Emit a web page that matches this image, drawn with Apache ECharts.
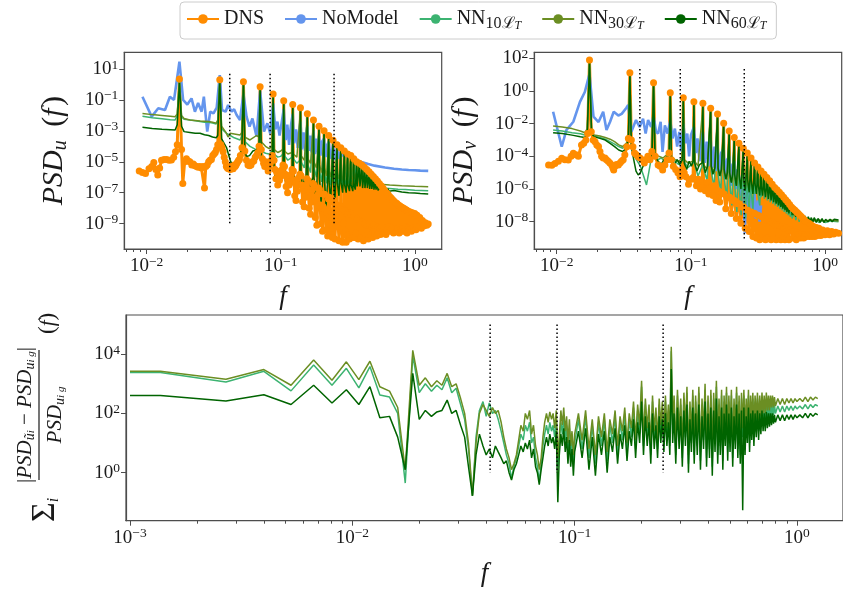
<!DOCTYPE html>
<html><head><meta charset="utf-8">
<script src="https://cdn.jsdelivr.net/npm/echarts@6/dist/echarts.min.js"></script>
<style>html,body{margin:0;padding:0;background:#fff}#c{width:843px;height:589px}</style>
</head><body><div id="c"></div><script>
// ---------- DATA: [frequency f, log10(value)] ----------
const dnsU = [[0.0088,-5.6],[0.0093,-5.7],[0.0098,-5.75],[0.0104,-5.45],[0.0109,-5.3],[0.0113,-5.05],[0.0117,-5.5],[0.0121,-5.85],[0.0125,-5.4],[0.0129,-4.9],[0.0135,-4.85],[0.0141,-4.85],[0.0147,-4.9],[0.0153,-4.88],[0.0159,-4.7],[0.0164,-4.35],[0.0169,-3.9],[0.01755,0.35],[0.0182,-4.2],[0.0186,-6.4],[0.0192,-5.0],[0.0198,-4.8],[0.0204,-4.95],[0.021,-5.0],[0.0217,-5.2],[0.0223,-5.15],[0.0229,-5.25],[0.0236,-5.3],[0.0242,-5.35],[0.0249,-5.3],[0.0256,-5.4],[0.0263,-5.3],[0.027,-6.7],[0.0276,-5.3],[0.0283,-5.2],[0.029,-5.0],[0.0297,-4.9],[0.0304,-4.85],[0.0311,-4.6],[0.0318,-4.5],[0.0325,-4.4],[0.0332,-4.2],[0.0339,-3.9],[0.0351,0.3],[0.0358,-3.9],[0.0365,-4.1],[0.0372,-4.35],[0.0379,-4.7],[0.0386,-5.0],[0.0393,-5.3],[0.04,-5.4],[0.0407,-5.45],[0.0414,-5.3],[0.0421,-5.5],[0.0428,-5.35],[0.0435,-5.3],[0.0442,-5.45],[0.045,-5.2],[0.0457,-5.3],[0.0464,-5.2],[0.0471,-5.1],[0.0478,-5.0],[0.0485,-4.9],[0.0492,-4.85],[0.05,-4.6],[0.0514,-4.1],[0.0527,0.18],[0.054,-4.3],[0.0555,-4.9],[0.057,-5.2],[0.0585,-5.25],[0.06,-5.2],[0.0615,-5.0],[0.063,-4.95],[0.0645,-4.7],[0.066,-4.6],[0.0675,-4.4],[0.0689,-4.0],[0.0702,-0.15],[0.0716,-4.2],[0.073,-4.8],[0.0745,-5.1],[0.076,-5.3],[0.0775,-5.0],[0.079,-5.2],[0.0805,-5.6],[0.082,-5.3],[0.0835,-5.1],[0.085,-4.9],[0.0864,-4.6],[0.0878,-0.62],[0.0892,-4.9],[0.0906,-5.5],[0.092,-6.1],[0.0935,-5.7],[0.095,-6.5],[0.0965,-5.8],[0.098,-6.2],[0.0995,-5.6],[0.101,-5.9],[0.1025,-5.5],[0.1039,-5.2],[0.1053,-1.05],[0.1067,-5.3],[0.1082,-5.8],[0.1097,-6.6],[0.111,-6.0],[0.1125,-7.0],[0.114,-6.2],[0.1155,-6.5],[0.117,-5.9],[0.1185,-6.3],[0.12,-5.8],[0.1215,-5.5],[0.1229,-1.3],[0.1243,-5.6],[0.1258,-6.2],[0.1272,-7.2],[0.1287,-6.4],[0.13,-7.5],[0.1316,-6.6],[0.133,-6.9],[0.1345,-6.1],[0.136,-6.5],[0.139,-5.8],[0.1404,-1.5],[0.1418,-5.9],[0.1435,-6.5],[0.1455,-7.6],[0.1475,-6.8],[0.1495,-7.9],[0.1515,-6.9],[0.1535,-7.3],[0.1555,-6.5],[0.1567,-6.1],[0.158,-1.9],[0.1594,-6.2],[0.161,-6.8],[0.163,-8.0],[0.165,-7.0],[0.167,-8.4],[0.169,-7.2],[0.171,-7.6],[0.1728,-6.8],[0.1742,-6.4],[0.1755,-2.3],[0.177,-6.5],[0.179,-7.3],[0.181,-8.6],[0.1835,-7.5],[0.186,-9.1],[0.1885,-7.8],[0.1905,-7.1],[0.1917,-6.7],[0.1931,-2.7],[0.1945,-6.8],[0.197,-7.8],[0.1995,-9.0],[0.202,-8.0],[0.205,-9.5],[0.2075,-7.9],[0.2092,-7.1],[0.2106,-3.0],[0.212,-7.1],[0.215,-8.1],[0.218,-9.4],[0.221,-8.3],[0.224,-9.8],[0.2268,-7.4],[0.2282,-3.3],[0.2296,-7.3],[0.233,-8.5],[0.236,-9.7],[0.239,-8.6],[0.2425,-9.9],[0.2443,-7.6],[0.2457,-3.6],[0.2471,-7.5],[0.25,-8.7],[0.254,-10.0],[0.2575,-8.8],[0.2605,-7.9],[0.2633,-3.9],[0.2647,-7.8],[0.268,-9.0],[0.272,-10.1],[0.2755,-8.9],[0.2794,-8.0],[0.2808,-4.1],[0.2822,-7.9],[0.286,-9.3],[0.29,-10.2],[0.294,-9.0],[0.297,-8.1],[0.2984,-4.3],[0.2998,-8.2],[0.304,-9.5],[0.308,-10.2],[0.3145,-8.3],[0.3159,-4.5],[0.3173,-8.4],[0.322,-9.7],[0.326,-10.0],[0.3321,-8.3],[0.3335,-4.6],[0.335,-8.4],[0.34,-9.8],[0.345,-9.9],[0.3496,-8.4],[0.351,-4.8],[0.3525,-8.5],[0.358,-9.9],[0.364,-9.6],[0.3686,-5.0],[0.372,-8.7],[0.378,-10.0],[0.3861,-5.1],[0.39,-8.8],[0.396,-9.9],[0.4037,-5.2],[0.408,-8.9],[0.414,-10.1],[0.4212,-5.35],[0.425,-9.0],[0.432,-9.8],[0.4388,-5.5],[0.443,-9.1],[0.45,-10.0],[0.4563,-5.65],[0.461,-9.0],[0.468,-9.7],[0.4739,-5.8],[0.478,-9.2],[0.485,-9.9],[0.4914,-5.95],[0.496,-9.1],[0.503,-9.6],[0.509,-6.1],[0.514,-9.3],[0.52,-9.8],[0.5265,-6.25],[0.532,-9.2],[0.538,-9.6],[0.5441,-6.4],[0.55,-9.3],[0.556,-9.7],[0.5616,-6.55],[0.568,-9.2],[0.574,-9.5],[0.5792,-6.7],[0.586,-9.4],[0.592,-9.6],[0.5967,-6.85],[0.604,-9.3],[0.61,-9.7],[0.6143,-7.0],[0.622,-9.4],[0.628,-9.5],[0.6318,-7.1],[0.64,-9.2],[0.6494,-7.25],[0.658,-9.5],[0.6669,-7.35],[0.676,-9.3],[0.6845,-7.45],[0.694,-9.6],[0.702,-7.55],[0.712,-9.4],[0.7196,-7.65],[0.73,-9.5],[0.7371,-7.7],[0.748,-9.3],[0.7547,-7.8],[0.765,-9.6],[0.7722,-7.85],[0.783,-9.4],[0.7898,-7.9],[0.80,-9.5],[0.8073,-7.95],[0.82,-9.3],[0.8249,-8.0],[0.835,-9.5],[0.8424,-8.05],[0.855,-9.2],[0.86,-8.1],[0.875,-9.6],[0.8775,-8.15],[0.89,-9.3],[0.895,-8.2],[0.91,-9.4],[0.925,-8.25],[0.945,-9.5],[0.96,-8.3],[0.98,-9.3],[1.0,-8.35],[1.02,-9.4],[1.04,-8.45],[1.07,-9.2],[1.09,-8.6],[1.12,-9.3],[1.14,-8.8],[1.17,-9.15],[1.2,-8.95],[1.23,-9.1],[1.26,-9.03]];
const noModelU = [[0.0093,-0.79],[0.0109,-2.08],[0.0122,-1.54],[0.0137,-1.65],[0.0149,-0.79],[0.016,-1.0],[0.01755,1.47],[0.0187,-1.0],[0.0201,-1.3],[0.0216,-0.9],[0.0229,-1.76],[0.0242,-1.2],[0.0257,-1.76],[0.0267,-0.79],[0.0283,-3.05],[0.0298,-1.76],[0.0315,-1.87],[0.0333,-1.5],[0.0351,0.6],[0.0365,-1.65],[0.0388,-1.76],[0.0405,-1.33],[0.043,-1.76],[0.0449,-1.6],[0.0469,-1.97],[0.0497,-2.3],[0.0527,-0.6],[0.0556,-2.08],[0.0585,-2.73],[0.0615,-2.2],[0.066,-3.37],[0.0702,-0.4],[0.075,-3.05],[0.0795,-2.51],[0.0835,-3.16],[0.0878,-1.2],[0.0912,-2.9],[0.0945,-2.4],[0.098,-3.3],[0.1015,-2.5],[0.1053,-1.6],[0.109,-3.6],[0.112,-2.6],[0.1155,-3.9],[0.119,-2.7],[0.1229,-1.9],[0.126,-3.8],[0.13,-2.9],[0.134,-4.1],[0.137,-3.0],[0.1404,-2.4],[0.144,-4.2],[0.148,-3.1],[0.152,-4.3],[0.155,-3.2],[0.158,-2.7],[0.162,-4.3],[0.166,-3.3],[0.17,-4.4],[0.1755,-3.0],[0.18,-4.5],[0.185,-3.5],[0.19,-4.5],[0.1931,-3.3],[0.198,-4.6],[0.203,-3.7],[0.2106,-3.5],[0.216,-4.7],[0.222,-3.9],[0.2282,-3.7],[0.235,-4.8],[0.2457,-3.9],[0.252,-4.9],[0.2633,-4.1],[0.27,-4.8],[0.2808,-4.35],[0.29,-4.6],[0.31,-4.65],[0.33,-4.72],[0.36,-4.88],[0.4,-5.02],[0.45,-5.15],[0.5,-5.25],[0.6,-5.37],[0.7,-5.45],[0.8,-5.5],[0.9,-5.53],[1.0,-5.55],[1.1,-5.57],[1.26,-5.59]];
const nn10U = [[0.0093,-2.05],[0.011,-2.15],[0.013,-2.22],[0.015,-2.28],[0.0163,-2.3],[0.0169,-2.0],[0.01755,0.3],[0.0182,-2.1],[0.019,-2.25],[0.021,-2.3],[0.023,-2.35],[0.025,-2.4],[0.027,-2.45],[0.029,-2.45],[0.031,-2.5],[0.033,-2.55],[0.0339,-2.4],[0.0351,0.3],[0.0362,-2.8],[0.037,-2.94],[0.0395,-3.16],[0.042,-3.3],[0.045,-3.45],[0.0497,-3.59],[0.0514,-3.3],[0.0527,0.15],[0.054,-3.7],[0.059,-4.0],[0.066,-4.23],[0.0689,-3.9],[0.0702,-0.2],[0.0716,-4.3],[0.077,-4.45],[0.082,-4.5],[0.0864,-4.3],[0.0878,-0.7],[0.0892,-4.5],[0.095,-4.7],[0.1,-4.65],[0.1039,-4.5],[0.1053,-1.15],[0.1067,-4.6],[0.113,-4.9],[0.1215,-4.7],[0.1229,-1.4],[0.1243,-4.8],[0.132,-5.1],[0.139,-4.9],[0.1404,-1.6],[0.1418,-5.0],[0.15,-5.4],[0.158,-2.0],[0.1594,-5.2],[0.167,-5.7],[0.1755,-2.4],[0.177,-5.4],[0.185,-6.0],[0.1931,-2.8],[0.1945,-5.6],[0.202,-6.3],[0.2106,-3.1],[0.212,-5.8],[0.22,-6.4],[0.2282,-3.4],[0.2296,-5.9],[0.237,-6.5],[0.2457,-3.7],[0.2471,-6.0],[0.255,-6.5],[0.2633,-4.0],[0.2647,-6.1],[0.272,-6.5],[0.2808,-4.2],[0.2822,-6.1],[0.29,-6.5],[0.2984,-4.4],[0.3,-6.2],[0.308,-6.5],[0.3159,-4.6],[0.3173,-6.2],[0.326,-6.5],[0.3335,-4.75],[0.335,-6.3],[0.351,-4.9],[0.3525,-6.3],[0.3686,-5.1],[0.372,-6.4],[0.3861,-5.2],[0.39,-6.4],[0.4037,-5.35],[0.408,-6.5],[0.4212,-5.5],[0.425,-6.5],[0.4388,-5.65],[0.443,-6.55],[0.4739,-5.95],[0.478,-6.6],[0.509,-6.2],[0.514,-6.6],[0.5616,-6.5],[0.568,-6.7],[0.65,-6.72],[0.75,-6.78],[0.85,-6.8],[1.0,-6.84],[1.26,-6.87]];
const nn30U = [[0.0093,-1.87],[0.011,-1.95],[0.013,-2.0],[0.015,-2.05],[0.0163,-2.08],[0.0169,-1.9],[0.01755,0.3],[0.0182,-2.0],[0.019,-2.2],[0.021,-2.3],[0.023,-2.33],[0.025,-2.36],[0.027,-2.38],[0.029,-2.4],[0.031,-2.45],[0.033,-2.5],[0.0339,-2.3],[0.0351,0.3],[0.0362,-2.7],[0.037,-2.8],[0.039,-3.1],[0.0405,-3.4],[0.042,-3.16],[0.045,-3.2],[0.0497,-3.27],[0.0514,-3.1],[0.0527,0.15],[0.054,-3.4],[0.059,-3.59],[0.066,-3.3],[0.0689,-3.4],[0.0702,-0.2],[0.0716,-3.7],[0.077,-4.0],[0.082,-4.15],[0.0864,-4.0],[0.0878,-0.7],[0.0892,-4.2],[0.095,-4.4],[0.1,-4.3],[0.1039,-4.2],[0.1053,-1.15],[0.1067,-4.3],[0.113,-4.5],[0.1215,-4.4],[0.1229,-1.4],[0.1243,-4.5],[0.132,-4.7],[0.1404,-1.6],[0.1418,-4.6],[0.15,-4.9],[0.158,-2.0],[0.1594,-4.8],[0.167,-5.1],[0.1755,-2.4],[0.177,-5.0],[0.185,-5.4],[0.1931,-2.8],[0.1945,-5.2],[0.202,-5.7],[0.2106,-3.1],[0.212,-5.4],[0.22,-5.9],[0.2282,-3.4],[0.2296,-5.6],[0.237,-6.0],[0.2457,-3.7],[0.2471,-5.7],[0.255,-6.1],[0.2633,-4.0],[0.2647,-5.8],[0.272,-6.1],[0.2808,-4.2],[0.2822,-5.9],[0.29,-6.2],[0.2984,-4.4],[0.3,-6.0],[0.3159,-4.6],[0.3173,-6.0],[0.3335,-4.75],[0.335,-6.1],[0.351,-4.9],[0.3525,-6.1],[0.3861,-5.2],[0.39,-6.2],[0.4212,-5.5],[0.425,-6.3],[0.4739,-5.95],[0.478,-6.4],[0.55,-6.45],[0.65,-6.5],[0.8,-6.55],[1.0,-6.58],[1.26,-6.61]];
const nn60U = [[0.0093,-2.77],[0.011,-2.85],[0.013,-2.9],[0.015,-2.93],[0.0163,-2.95],[0.0169,-2.6],[0.01755,0.1],[0.0182,-2.7],[0.019,-3.05],[0.021,-3.1],[0.023,-3.15],[0.025,-3.15],[0.027,-3.25],[0.029,-3.3],[0.031,-3.4],[0.033,-3.45],[0.0339,-3.3],[0.0351,0.2],[0.0362,-3.5],[0.0372,-3.7],[0.0383,-3.8],[0.0395,-4.1],[0.0407,-4.5],[0.042,-4.9],[0.0435,-5.2],[0.0455,-5.35],[0.0469,-5.4],[0.0485,-5.0],[0.05,-4.6],[0.0514,-4.0],[0.0527,0.1],[0.054,-4.4],[0.0556,-4.66],[0.0585,-4.6],[0.062,-4.3],[0.066,-4.23],[0.0689,-3.9],[0.0702,-0.2],[0.0716,-4.6],[0.074,-4.9],[0.077,-5.3],[0.08,-5.7],[0.083,-5.6],[0.0864,-5.0],[0.0878,-0.7],[0.0892,-5.5],[0.092,-6.2],[0.095,-5.8],[0.098,-6.4],[0.101,-6.0],[0.1039,-5.5],[0.1053,-1.15],[0.1067,-5.6],[0.109,-6.3],[0.113,-5.8],[0.116,-6.6],[0.1215,-5.6],[0.1229,-1.4],[0.1243,-5.7],[0.128,-6.7],[0.132,-5.9],[0.136,-6.5],[0.139,-5.6],[0.1404,-1.6],[0.1418,-5.8],[0.146,-6.9],[0.15,-6.0],[0.154,-6.6],[0.158,-2.0],[0.1594,-5.9],[0.164,-7.0],[0.169,-6.3],[0.1742,-6.0],[0.1755,-2.4],[0.177,-6.0],[0.182,-7.2],[0.186,-6.4],[0.1931,-2.8],[0.1945,-6.1],[0.2,-7.6],[0.205,-6.3],[0.2106,-3.1],[0.212,-6.2],[0.218,-7.9],[0.223,-6.4],[0.2282,-3.4],[0.2296,-6.3],[0.236,-7.6],[0.2457,-3.7],[0.2471,-6.3],[0.254,-7.4],[0.2633,-4.0],[0.2647,-6.4],[0.272,-7.2],[0.2808,-4.2],[0.2822,-6.4],[0.29,-7.0],[0.2984,-4.4],[0.3,-6.5],[0.308,-7.0],[0.3159,-4.6],[0.3173,-6.5],[0.326,-6.9],[0.3335,-4.75],[0.335,-6.5],[0.345,-6.9],[0.351,-4.9],[0.3525,-6.5],[0.36,-6.8],[0.3686,-5.1],[0.372,-6.6],[0.3861,-5.2],[0.39,-6.6],[0.4037,-5.35],[0.408,-6.7],[0.4212,-5.5],[0.425,-6.7],[0.4388,-5.65],[0.443,-6.7],[0.4563,-5.8],[0.461,-6.75],[0.4739,-5.95],[0.478,-6.75],[0.4914,-6.1],[0.496,-6.8],[0.509,-6.2],[0.514,-6.8],[0.5265,-6.35],[0.532,-6.85],[0.5616,-6.5],[0.568,-6.85],[0.5967,-6.6],[0.604,-6.9],[0.6318,-6.75],[0.64,-6.9],[0.7,-6.85],[0.72,-6.95],[0.8,-6.95],[0.9,-7.0],[1.0,-7.02],[1.1,-7.05],[1.26,-7.08]];

const dnsV = [[0.0087,-4.53],[0.0092,-4.55],[0.0097,-4.43],[0.0103,-4.3],[0.0109,-4.12],[0.0115,-4.2],[0.0122,-4.22],[0.0128,-4.0],[0.0133,-3.81],[0.0139,-3.9],[0.0145,-4.0],[0.0153,-3.3],[0.0159,-3.2],[0.0165,-3.0],[0.017,-2.6],[0.01755,1.9],[0.0181,-2.5],[0.0187,-3.0],[0.0193,-3.1],[0.0199,-3.3],[0.0205,-3.4],[0.021,-3.7],[0.0216,-4.0],[0.0222,-4.1],[0.0229,-4.1],[0.0235,-4.2],[0.0242,-4.3],[0.0249,-4.4],[0.0257,-4.53],[0.0262,-4.7],[0.0266,-4.84],[0.0272,-4.6],[0.0279,-4.5],[0.0288,-4.53],[0.0296,-4.4],[0.0304,-4.3],[0.0313,-4.2],[0.0322,-3.9],[0.0333,-3.41],[0.0342,-2.9],[0.0351,1.12],[0.036,-3.0],[0.037,-3.41],[0.038,-3.8],[0.0392,-3.9],[0.0405,-4.02],[0.0418,-4.1],[0.0437,-4.22],[0.045,-4.4],[0.0463,-4.2],[0.0478,-4.0],[0.0496,-4.2],[0.0512,-3.7],[0.0527,0.5],[0.0542,-4.0],[0.057,-4.53],[0.059,-4.6],[0.0616,-4.84],[0.064,-4.53],[0.0665,-4.2],[0.0687,-3.8],[0.0702,-0.1],[0.0716,-4.2],[0.074,-4.6],[0.077,-4.8],[0.08,-5.0],[0.083,-5.24],[0.0864,-4.8],[0.0878,-0.41],[0.0892,-5.0],[0.092,-5.24],[0.096,-5.7],[0.1,-5.4],[0.1039,-5.3],[0.1053,-0.65],[0.1067,-5.4],[0.11,-5.8],[0.114,-5.4],[0.118,-6.0],[0.1215,-5.6],[0.1229,-0.75],[0.1243,-5.7],[0.128,-6.1],[0.132,-5.6],[0.136,-6.3],[0.1404,-1.06],[0.1418,-5.9],[0.146,-6.4],[0.15,-5.8],[0.154,-6.7],[0.158,-1.4],[0.1594,-6.1],[0.164,-6.8],[0.169,-6.2],[0.1755,-1.98],[0.177,-6.3],[0.182,-7.2],[0.187,-6.5],[0.1931,-2.45],[0.1945,-6.5],[0.2,-7.5],[0.205,-6.7],[0.2106,-2.85],[0.212,-6.7],[0.218,-7.8],[0.223,-6.9],[0.2282,-3.2],[0.2296,-6.9],[0.236,-8.1],[0.241,-7.1],[0.2457,-3.5],[0.2471,-7.1],[0.254,-8.4],[0.2633,-3.8],[0.2647,-7.3],[0.272,-8.6],[0.2808,-4.1],[0.2822,-7.4],[0.29,-8.9],[0.2984,-4.4],[0.3,-7.5],[0.308,-9.0],[0.3159,-4.65],[0.3173,-7.6],[0.326,-9.1],[0.3335,-4.9],[0.335,-7.7],[0.342,-9.0],[0.351,-5.1],[0.3525,-7.8],[0.36,-9.1],[0.3686,-5.3],[0.372,-7.9],[0.378,-9.0],[0.3861,-5.5],[0.39,-8.0],[0.396,-9.1],[0.4037,-5.7],[0.408,-8.1],[0.414,-9.0],[0.4212,-5.9],[0.425,-8.2],[0.432,-9.1],[0.4388,-6.05],[0.443,-8.2],[0.45,-9.0],[0.4563,-6.2],[0.461,-8.3],[0.468,-9.1],[0.4739,-6.35],[0.478,-8.3],[0.485,-9.0],[0.4914,-6.5],[0.496,-8.4],[0.503,-9.1],[0.509,-6.65],[0.514,-8.4],[0.52,-9.0],[0.5265,-6.8],[0.532,-8.5],[0.538,-9.1],[0.5441,-6.95],[0.55,-8.5],[0.5616,-7.1],[0.568,-8.6],[0.574,-9.0],[0.5792,-7.2],[0.586,-8.6],[0.5967,-7.3],[0.604,-8.7],[0.61,-9.1],[0.6143,-7.4],[0.622,-8.7],[0.6318,-7.5],[0.64,-8.8],[0.6494,-7.6],[0.658,-9.0],[0.6669,-7.7],[0.676,-8.8],[0.6845,-7.8],[0.694,-9.0],[0.702,-7.9],[0.712,-8.8],[0.7196,-8.0],[0.73,-8.9],[0.7371,-8.05],[0.748,-8.8],[0.7547,-8.1],[0.765,-8.9],[0.7722,-8.15],[0.783,-8.8],[0.7898,-8.2],[0.80,-8.9],[0.82,-8.3],[0.84,-8.9],[0.86,-8.35],[0.88,-8.85],[0.9,-8.4],[0.93,-8.85],[0.96,-8.5],[1.0,-8.8],[1.04,-8.55],[1.08,-8.8],[1.12,-8.6],[1.16,-8.75],[1.2,-8.65],[1.26,-8.71]];
const noModelV = [[0.0094,-1.27],[0.0109,-3.41],[0.0118,-2.39],[0.0133,-1.88],[0.0149,-0.66],[0.0162,-0.06],[0.01755,1.05],[0.0188,-1.57],[0.0205,-1.9],[0.0222,-1.27],[0.0235,-2.39],[0.025,-1.88],[0.0266,-1.27],[0.0288,-1.5],[0.0305,-1.4],[0.033,-1.04],[0.0341,-0.86],[0.036,-2.49],[0.039,-1.78],[0.0415,-2.2],[0.044,-1.7],[0.046,-2.6],[0.048,-1.78],[0.0505,-2.2],[0.0527,-1.5],[0.055,-2.5],[0.057,-2.6],[0.0595,-1.88],[0.0615,-3.72],[0.064,-2.1],[0.067,-2.6],[0.0702,-1.8],[0.073,-2.9],[0.076,-2.3],[0.079,-3.4],[0.082,-2.5],[0.085,-3.7],[0.0878,-2.0],[0.091,-3.2],[0.094,-2.6],[0.097,-4.0],[0.1,-2.7],[0.1053,-2.2],[0.109,-3.8],[0.112,-2.9],[0.116,-4.3],[0.119,-3.0],[0.1229,-2.5],[0.127,-4.4],[0.131,-3.1],[0.135,-4.6],[0.1404,-2.9],[0.145,-4.7],[0.15,-3.4],[0.154,-4.9],[0.158,-3.3],[0.163,-5.0],[0.168,-3.8],[0.1755,-3.5],[0.18,-5.4],[0.186,-4.2],[0.1931,-4.0],[0.198,-5.8],[0.204,-4.5],[0.2106,-4.3],[0.216,-6.0],[0.222,-4.8],[0.2282,-4.7],[0.234,-6.4],[0.24,-5.2],[0.2457,-5.0],[0.252,-8.7],[0.258,-5.6],[0.2633,-5.5],[0.27,-7.2],[0.276,-6.0],[0.2808,-5.9],[0.288,-7.6],[0.2984,-6.3],[0.305,-7.8],[0.3159,-6.7],[0.325,-8.0],[0.3335,-7.0]];
const nn10V = [[0.0094,-2.39],[0.011,-2.45],[0.013,-2.55],[0.015,-2.62],[0.0162,-2.69],[0.0169,-2.4],[0.01755,1.8],[0.0182,-2.6],[0.019,-2.75],[0.021,-2.84],[0.023,-2.95],[0.025,-3.1],[0.027,-3.25],[0.029,-3.4],[0.031,-3.5],[0.033,-3.3],[0.0342,-2.9],[0.0351,1.05],[0.036,-3.5],[0.038,-4.0],[0.04,-4.3],[0.042,-4.6],[0.044,-5.1],[0.0467,-5.75],[0.049,-4.8],[0.051,-4.0],[0.0527,0.45],[0.054,-4.0],[0.057,-4.2],[0.06,-4.1],[0.064,-4.3],[0.0689,-3.9],[0.0702,-0.2],[0.0716,-4.1],[0.076,-4.3],[0.081,-4.5],[0.0864,-4.2],[0.0878,-0.5],[0.0892,-4.3],[0.095,-4.7],[0.1039,-4.4],[0.1053,-0.75],[0.1067,-4.5],[0.113,-5.2],[0.1215,-4.6],[0.1229,-0.85],[0.1243,-4.7],[0.132,-5.5],[0.1404,-1.15],[0.1418,-4.9],[0.149,-5.9],[0.158,-1.5],[0.1594,-5.1],[0.167,-6.2],[0.1755,-2.1],[0.177,-5.3],[0.185,-6.6],[0.1931,-2.55],[0.1945,-5.5],[0.202,-7.0],[0.2106,-2.95],[0.212,-5.7],[0.22,-7.4],[0.2282,-3.3],[0.2296,-5.9],[0.237,-7.6],[0.2457,-3.6],[0.2471,-6.0],[0.255,-7.8],[0.2633,-3.9],[0.2647,-6.1],[0.272,-7.5],[0.2808,-4.2],[0.2822,-6.2],[0.29,-7.3],[0.2984,-4.5],[0.3,-6.3],[0.3159,-4.75],[0.3173,-6.4],[0.326,-7.0],[0.3335,-5.0],[0.335,-6.5],[0.351,-5.2],[0.3525,-6.6],[0.3686,-5.4],[0.372,-6.7],[0.3861,-5.6],[0.39,-6.8],[0.4037,-5.8],[0.408,-6.9],[0.4212,-6.0],[0.425,-7.0],[0.4388,-6.15],[0.443,-7.1],[0.4563,-6.3],[0.461,-7.2],[0.4739,-6.45],[0.478,-7.3],[0.4914,-6.6],[0.496,-7.4],[0.509,-6.75],[0.514,-7.5],[0.5265,-6.9],[0.532,-7.6],[0.5441,-7.0],[0.55,-7.7],[0.5616,-7.1],[0.568,-7.8],[0.5967,-7.3],[0.604,-7.9],[0.6318,-7.5],[0.64,-8.0],[0.6669,-7.6],[0.676,-8.0],[0.702,-7.7],[0.712,-8.05],[0.75,-7.8],[0.8,-8.05],[0.85,-7.85],[0.9,-8.05],[0.95,-7.9],[1.0,-8.05],[1.1,-7.95],[1.26,-8.0]];
const nn30V = [[0.0094,-2.14],[0.011,-2.2],[0.013,-2.3],[0.015,-2.45],[0.0162,-2.55],[0.0169,-2.3],[0.01755,1.8],[0.0182,-2.5],[0.019,-2.69],[0.021,-2.75],[0.023,-2.85],[0.025,-2.95],[0.027,-3.1],[0.029,-3.3],[0.031,-3.4],[0.033,-3.2],[0.0342,-2.9],[0.0351,1.05],[0.036,-3.4],[0.038,-3.8],[0.04,-4.0],[0.042,-4.2],[0.045,-4.1],[0.048,-4.0],[0.051,-3.8],[0.0527,0.45],[0.054,-3.9],[0.058,-4.0],[0.062,-4.1],[0.066,-3.9],[0.0689,-3.8],[0.0702,-0.2],[0.0716,-4.0],[0.076,-4.2],[0.081,-4.3],[0.0864,-4.1],[0.0878,-0.5],[0.0892,-4.2],[0.095,-4.4],[0.1039,-4.3],[0.1053,-0.75],[0.1067,-4.3],[0.113,-4.6],[0.1229,-0.85],[0.1243,-4.5],[0.132,-4.8],[0.1404,-1.15],[0.1418,-4.6],[0.149,-5.0],[0.158,-1.5],[0.1594,-4.8],[0.167,-5.2],[0.1755,-2.1],[0.177,-5.0],[0.185,-5.4],[0.1931,-2.55],[0.1945,-5.2],[0.202,-5.6],[0.2106,-2.95],[0.212,-5.3],[0.22,-5.8],[0.2282,-3.3],[0.2296,-5.4],[0.237,-5.9],[0.2457,-3.6],[0.2471,-5.5],[0.255,-6.0],[0.2633,-3.9],[0.2647,-5.6],[0.272,-6.1],[0.2808,-4.2],[0.2822,-5.7],[0.29,-6.2],[0.2984,-4.5],[0.3,-5.8],[0.3159,-4.75],[0.3173,-5.9],[0.3335,-5.0],[0.335,-6.0],[0.351,-5.2],[0.3525,-6.1],[0.3686,-5.4],[0.372,-6.2],[0.3861,-5.6],[0.39,-6.3],[0.4037,-5.8],[0.408,-6.45],[0.4212,-6.0],[0.425,-6.6],[0.4388,-6.15],[0.443,-6.75],[0.4739,-6.45],[0.478,-6.95],[0.509,-6.75],[0.514,-7.15],[0.5441,-7.0],[0.55,-7.35],[0.5792,-7.2],[0.586,-7.5],[0.6143,-7.4],[0.622,-7.65],[0.6494,-7.5],[0.658,-7.75],[0.702,-7.7],[0.712,-7.85],[0.75,-7.8],[0.8,-7.95],[0.9,-7.9],[1.0,-7.95],[1.1,-7.9],[1.26,-7.95]];
const nn60V = [[0.0094,-2.55],[0.011,-2.6],[0.013,-2.7],[0.015,-2.8],[0.0162,-2.84],[0.0169,-2.6],[0.01755,1.7],[0.0182,-2.6],[0.019,-2.8],[0.021,-2.9],[0.023,-3.0],[0.025,-3.2],[0.027,-3.4],[0.029,-3.61],[0.031,-3.7],[0.033,-3.5],[0.0342,-3.0],[0.0351,1.0],[0.036,-3.4],[0.0375,-4.2],[0.039,-4.9],[0.0405,-5.14],[0.042,-5.0],[0.044,-4.6],[0.047,-4.3],[0.05,-4.2],[0.0514,-3.8],[0.0527,0.4],[0.054,-4.0],[0.057,-4.3],[0.06,-4.5],[0.063,-4.2],[0.0665,-4.0],[0.0689,-3.8],[0.0702,-0.2],[0.0716,-4.2],[0.075,-4.5],[0.079,-4.2],[0.083,-4.5],[0.0864,-4.2],[0.0878,-0.5],[0.0892,-4.4],[0.093,-4.8],[0.097,-4.3],[0.101,-4.6],[0.1039,-4.3],[0.1053,-0.75],[0.1067,-4.4],[0.111,-4.9],[0.116,-4.5],[0.1215,-4.4],[0.1229,-0.85],[0.1243,-4.5],[0.128,-5.0],[0.133,-4.6],[0.1404,-1.15],[0.1418,-4.6],[0.146,-5.1],[0.151,-4.7],[0.158,-1.5],[0.1594,-4.7],[0.164,-5.2],[0.169,-4.8],[0.1755,-2.1],[0.177,-4.8],[0.182,-5.4],[0.187,-5.0],[0.1931,-2.55],[0.1945,-5.0],[0.2,-5.6],[0.205,-5.1],[0.2106,-2.95],[0.212,-5.1],[0.218,-5.8],[0.2282,-3.3],[0.2296,-5.2],[0.236,-6.0],[0.2457,-3.6],[0.2471,-5.3],[0.254,-6.1],[0.2633,-3.9],[0.2647,-5.4],[0.272,-6.2],[0.2808,-4.2],[0.2822,-5.5],[0.29,-6.3],[0.2984,-4.5],[0.3,-5.6],[0.308,-6.3],[0.3159,-4.75],[0.3173,-5.7],[0.326,-6.4],[0.3335,-5.0],[0.335,-5.8],[0.342,-6.4],[0.351,-5.2],[0.3525,-5.9],[0.36,-6.5],[0.3686,-5.4],[0.372,-6.0],[0.378,-6.6],[0.3861,-5.6],[0.39,-6.1],[0.396,-6.7],[0.4037,-5.8],[0.408,-6.3],[0.414,-6.8],[0.4212,-6.0],[0.425,-6.5],[0.432,-6.9],[0.4388,-6.15],[0.443,-6.6],[0.45,-7.0],[0.4563,-6.3],[0.461,-6.7],[0.468,-7.1],[0.4739,-6.45],[0.478,-6.8],[0.485,-7.2],[0.4914,-6.6],[0.496,-6.9],[0.503,-7.3],[0.509,-6.75],[0.514,-7.0],[0.52,-7.4],[0.5265,-6.9],[0.532,-7.1],[0.538,-7.5],[0.5441,-7.0],[0.55,-7.3],[0.5616,-7.1],[0.568,-7.6],[0.5792,-7.2],[0.586,-7.6],[0.5967,-7.3],[0.604,-7.7],[0.6143,-7.4],[0.622,-7.7],[0.6318,-7.45],[0.64,-7.8],[0.6494,-7.5],[0.658,-7.9],[0.6669,-7.55],[0.676,-7.8],[0.6845,-7.6],[0.694,-7.9],[0.71,-7.65],[0.73,-7.95],[0.75,-7.7],[0.77,-8.0],[0.79,-7.75],[0.81,-8.0],[0.83,-7.75],[0.86,-8.05],[0.89,-7.8],[0.92,-8.05],[0.95,-7.8],[0.98,-8.05],[1.01,-7.85],[1.05,-8.0],[1.09,-7.85],[1.13,-8.0],[1.17,-7.85],[1.21,-7.95],[1.26,-7.9]];

const nn10Err = [[0.001,3.38],[0.00137,3.38],[0.0027,3.06],[0.004,3.42],[0.0053,2.76],[0.0067,3.63],[0.0081,2.95],[0.0094,3.52],[0.0107,2.86],[0.012,3.58],[0.0133,2.62],[0.0147,2.55],[0.016,2.0],[0.0173,-0.35],[0.0187,3.95],[0.02,2.7],[0.0213,3.0],[0.0227,2.75],[0.024,2.95],[0.0253,2.8],[0.0267,3.2],[0.028,2.7],[0.0293,2.85],[0.0307,2.3],[0.032,1.8],[0.0333,0.8],[0.0347,-0.78],[0.036,1.2],[0.0373,2.1],[0.0387,2.4],[0.04,1.9],[0.0413,2.35],[0.0427,2.0],[0.044,2.1],[0.0453,1.8],[0.0467,1.4],[0.048,1.0],[0.0493,0.6],[0.0507,0.3],[0.052,-0.2],[0.0533,0.2],[0.0547,0.5],[0.056,0.9],[0.0573,1.3],[0.0587,1.1],[0.06,1.6],[0.0613,1.4],[0.0627,1.7],[0.064,1.0],[0.0653,1.2],[0.0667,0.5],[0.068,0.2],[0.0693,-0.3],[0.0707,0.3],[0.072,0.9],[0.0733,1.3],[0.0747,1.6],[0.076,1.3],[0.0773,1.7],[0.0787,1.4],[0.08,1.6],[0.0813,1.2],[0.0827,1.8],[0.084,0.2],[0.0853,1.0],[0.0867,1.7],[0.088,1.3],[0.0893,1.9],[0.0907,1.1],[0.092,1.6],[0.0933,0.7],[0.0947,1.5],[0.096,0.6],[0.0973,1.1],[0.0987,0.3],[0.1,1.0],[0.104,1.8],[0.108,0.8],[0.112,1.9],[0.116,0.5],[0.12,1.6],[0.124,0.3],[0.128,1.7],[0.132,0.9],[0.136,1.8],[0.14,0.4],[0.144,1.6],[0.148,1.0],[0.152,1.9],[0.156,0.6],[0.16,1.7],[0.164,1.1],[0.168,2.0],[0.172,0.7],[0.176,1.8],[0.18,1.2],[0.184,2.2],[0.188,0.8],[0.192,2.1],[0.196,1.3],[0.2,2.9],[0.204,0.9],[0.208,2.3],[0.212,1.2],[0.216,2.1],[0.22,0.6],[0.224,2.4],[0.228,1.1],[0.232,2.0],[0.236,0.8],[0.24,2.3],[0.244,1.3],[0.248,2.2],[0.252,1.0],[0.256,2.4],[0.26,1.2],[0.264,2.1],[0.268,0.9],[0.272,4.1],[0.276,1.3],[0.28,2.4],[0.285,0.6],[0.29,2.6],[0.295,1.1],[0.3,2.3],[0.305,0.5],[0.31,2.5],[0.315,1.2],[0.32,2.7],[0.325,0.3],[0.33,2.2],[0.335,1.0],[0.34,2.6],[0.345,0.6],[0.35,2.4],[0.356,0.9],[0.362,2.7],[0.368,0.4],[0.374,2.3],[0.38,1.1],[0.386,2.8],[0.392,0.5],[0.398,2.4],[0.404,0.8],[0.41,2.6],[0.416,0.2],[0.422,2.5],[0.428,1.0],[0.434,2.9],[0.44,0.6],[0.446,2.3],[0.452,0.9],[0.458,2.6],[0.464,0.4],[0.47,2.4],[0.476,1.2],[0.482,2.7],[0.488,0.7],[0.494,2.4],[0.5,1.0],[0.507,2.6],[0.514,0.5],[0.521,2.3],[0.528,1.1],[0.535,2.7],[0.542,0.8],[0.549,2.4],[0.556,0.6],[0.563,2.5],[0.57,1.2],[0.577,2.6],[0.584,0.9],[0.591,2.3],[0.598,1.3],[0.605,2.6],[0.612,1.0],[0.619,2.4],[0.626,1.4],[0.633,2.5],[0.64,1.2],[0.648,2.4],[0.656,1.5],[0.664,2.5],[0.672,1.4],[0.68,2.4],[0.688,1.6],[0.696,2.5],[0.704,1.7],[0.712,2.4],[0.72,1.7],[0.728,2.45],[0.736,1.8],[0.744,2.4],[0.752,1.85],[0.76,2.4],[0.768,1.9],[0.776,2.35],[0.784,1.95],[0.792,2.3],[0.8,2.0],[0.82,2.25],[0.84,2.05],[0.86,2.25],[0.88,2.05],[0.9,2.25],[0.92,2.1],[0.94,2.25],[0.96,2.1],[0.98,2.25],[1.0,2.15],[1.03,2.25],[1.06,2.15],[1.09,2.3],[1.12,2.15],[1.15,2.3],[1.18,2.2],[1.21,2.3],[1.24,2.25]];
const nn30Err = [[0.001,3.42],[0.00137,3.42],[0.0027,3.15],[0.004,3.48],[0.0053,2.95],[0.0067,3.8],[0.0081,3.12],[0.0094,3.74],[0.0107,3.14],[0.012,3.76],[0.0133,2.9],[0.0147,2.75],[0.016,2.2],[0.0173,0.1],[0.0187,4.13],[0.02,2.95],[0.0213,3.2],[0.0227,2.9],[0.024,3.1],[0.0253,2.95],[0.0267,3.35],[0.028,2.9],[0.0293,3.0],[0.0307,2.5],[0.032,2.0],[0.0333,1.0],[0.0347,-0.78],[0.036,1.0],[0.0373,2.0],[0.0387,2.3],[0.04,2.1],[0.0413,1.9],[0.0427,2.2],[0.044,2.0],[0.0453,2.1],[0.0467,1.7],[0.048,1.2],[0.0493,0.8],[0.0507,0.5],[0.052,0.1],[0.0533,0.3],[0.0547,0.6],[0.056,1.1],[0.0573,1.6],[0.0587,1.4],[0.06,2.0],[0.0613,1.8],[0.0627,2.1],[0.064,1.3],[0.0653,1.6],[0.0667,0.9],[0.068,0.6],[0.0693,0.1],[0.0707,0.5],[0.072,1.2],[0.0733,1.7],[0.0747,2.0],[0.076,1.7],[0.0773,2.05],[0.0787,1.8],[0.08,2.0],[0.0813,1.5],[0.0827,2.1],[0.084,0.5],[0.0853,1.2],[0.0867,2.1],[0.088,1.6],[0.0893,2.2],[0.0907,1.4],[0.092,1.9],[0.0933,1.0],[0.0947,1.8],[0.096,0.9],[0.0973,1.4],[0.0987,0.6],[0.1,1.3],[0.104,2.0],[0.108,1.1],[0.112,2.1],[0.116,0.8],[0.12,1.8],[0.124,0.6],[0.128,1.9],[0.132,1.2],[0.136,2.0],[0.14,0.7],[0.144,1.8],[0.148,1.3],[0.152,2.1],[0.156,0.9],[0.16,1.9],[0.164,1.4],[0.168,2.2],[0.172,1.0],[0.176,2.0],[0.18,1.5],[0.184,2.4],[0.188,1.1],[0.192,2.3],[0.196,1.6],[0.2,3.1],[0.204,1.2],[0.208,2.5],[0.212,1.5],[0.216,2.3],[0.22,0.9],[0.224,2.6],[0.228,1.4],[0.232,2.2],[0.236,1.1],[0.24,2.5],[0.244,1.6],[0.248,2.4],[0.252,1.3],[0.256,2.6],[0.26,1.5],[0.264,2.3],[0.268,1.2],[0.272,4.25],[0.276,1.6],[0.28,2.6],[0.285,0.9],[0.29,2.8],[0.295,1.4],[0.3,2.5],[0.305,0.8],[0.31,2.7],[0.315,1.5],[0.32,2.9],[0.325,0.6],[0.33,2.4],[0.335,1.3],[0.34,2.8],[0.345,0.9],[0.35,2.6],[0.356,1.2],[0.362,2.9],[0.368,0.7],[0.374,2.5],[0.38,1.4],[0.386,3.0],[0.392,0.8],[0.398,2.6],[0.404,1.1],[0.41,2.8],[0.416,0.5],[0.422,2.7],[0.428,1.3],[0.434,3.1],[0.44,0.9],[0.446,2.5],[0.452,1.2],[0.458,2.8],[0.464,0.7],[0.47,2.6],[0.476,1.5],[0.482,2.9],[0.488,1.0],[0.494,2.6],[0.5,1.3],[0.507,2.8],[0.514,0.8],[0.521,2.5],[0.528,1.4],[0.535,2.9],[0.542,1.1],[0.549,2.6],[0.556,0.9],[0.563,2.7],[0.57,1.5],[0.577,2.8],[0.584,1.2],[0.591,2.5],[0.598,1.6],[0.605,2.8],[0.612,1.3],[0.619,2.6],[0.626,1.7],[0.633,2.7],[0.64,1.5],[0.648,2.6],[0.656,1.8],[0.664,2.7],[0.672,1.7],[0.68,2.6],[0.688,1.9],[0.696,2.7],[0.704,2.0],[0.712,2.6],[0.72,2.0],[0.728,2.7],[0.736,2.1],[0.744,2.6],[0.752,2.1],[0.76,2.6],[0.768,2.2],[0.776,2.6],[0.784,2.2],[0.792,2.55],[0.8,2.25],[0.82,2.5],[0.84,2.3],[0.86,2.5],[0.88,2.3],[0.9,2.5],[0.92,2.35],[0.94,2.5],[0.96,2.35],[0.98,2.5],[1.0,2.4],[1.03,2.5],[1.06,2.4],[1.09,2.55],[1.12,2.4],[1.15,2.55],[1.18,2.45],[1.21,2.55],[1.24,2.5]];
const nn60Err = [[0.001,2.6],[0.00137,2.6],[0.0027,2.42],[0.004,2.63],[0.0053,2.3],[0.0067,2.95],[0.0081,2.35],[0.0094,2.8],[0.0107,2.3],[0.012,2.9],[0.0133,1.85],[0.0147,1.9],[0.016,1.2],[0.0173,0.1],[0.0187,3.35],[0.02,1.8],[0.0213,2.1],[0.0227,1.9],[0.024,2.05],[0.0253,2.1],[0.0267,2.45],[0.028,2.0],[0.0293,2.1],[0.0307,1.6],[0.032,1.2],[0.0333,0.2],[0.0347,-0.78],[0.036,0.6],[0.0373,1.3],[0.0387,0.9],[0.04,0.6],[0.0413,0.8],[0.0427,0.5],[0.044,0.9],[0.0453,0.7],[0.0467,0.5],[0.048,0.3],[0.0493,0.4],[0.0507,0.0],[0.052,-0.25],[0.0533,0.1],[0.0547,0.3],[0.056,0.6],[0.0573,0.9],[0.0587,0.7],[0.06,1.0],[0.0613,0.8],[0.0627,1.1],[0.064,0.5],[0.0653,0.8],[0.0667,0.2],[0.068,0.0],[0.0693,-0.4],[0.0707,0.1],[0.072,0.5],[0.0733,0.9],[0.0747,1.2],[0.076,0.9],[0.0773,1.3],[0.0787,1.0],[0.08,1.2],[0.0813,0.8],[0.0827,1.4],[0.084,-1.0],[0.0853,0.6],[0.0867,1.3],[0.088,0.9],[0.0893,1.5],[0.0907,0.7],[0.092,1.2],[0.0933,0.3],[0.0947,1.1],[0.096,0.2],[0.0973,0.8],[0.0987,-0.1],[0.1,0.7],[0.104,1.4],[0.108,0.5],[0.112,1.5],[0.116,0.1],[0.12,1.2],[0.124,-0.1],[0.128,1.3],[0.132,0.6],[0.136,1.4],[0.14,0.0],[0.144,1.2],[0.148,0.7],[0.152,1.5],[0.156,0.3],[0.16,1.3],[0.164,0.8],[0.168,1.6],[0.172,0.4],[0.176,1.4],[0.18,0.9],[0.184,1.8],[0.188,0.5],[0.192,1.7],[0.196,1.0],[0.2,2.4],[0.204,0.6],[0.208,1.9],[0.212,0.9],[0.216,1.7],[0.22,0.3],[0.224,2.0],[0.228,0.8],[0.232,1.6],[0.236,0.5],[0.24,1.9],[0.244,1.0],[0.248,1.8],[0.252,0.7],[0.256,2.0],[0.26,0.9],[0.264,1.7],[0.268,0.6],[0.272,3.5],[0.276,1.0],[0.28,2.0],[0.285,0.3],[0.29,2.2],[0.295,0.8],[0.3,1.9],[0.305,0.2],[0.31,2.1],[0.315,0.9],[0.32,2.3],[0.325,0.0],[0.33,1.8],[0.335,0.7],[0.34,2.2],[0.345,0.3],[0.35,2.0],[0.356,0.6],[0.362,2.3],[0.368,0.1],[0.374,1.9],[0.38,0.8],[0.386,2.4],[0.392,0.2],[0.398,2.0],[0.404,0.5],[0.41,2.2],[0.416,-0.1],[0.422,2.1],[0.428,0.7],[0.434,2.5],[0.44,0.3],[0.446,1.9],[0.452,0.6],[0.458,2.2],[0.464,0.1],[0.47,2.0],[0.476,0.9],[0.482,2.3],[0.488,0.4],[0.494,2.0],[0.5,0.7],[0.507,2.2],[0.514,0.2],[0.521,1.9],[0.528,0.8],[0.535,2.3],[0.542,0.5],[0.549,2.0],[0.556,0.3],[0.563,2.1],[0.57,-1.27],[0.577,2.2],[0.584,0.6],[0.591,1.9],[0.598,1.0],[0.605,2.2],[0.612,0.7],[0.619,2.0],[0.626,1.1],[0.633,2.1],[0.64,0.9],[0.648,2.0],[0.656,1.2],[0.664,2.1],[0.672,1.1],[0.68,2.0],[0.688,1.3],[0.696,2.1],[0.704,1.4],[0.712,2.0],[0.72,1.4],[0.728,2.05],[0.736,1.5],[0.744,2.0],[0.752,1.55],[0.76,2.0],[0.768,1.6],[0.776,2.0],[0.784,1.65],[0.792,1.95],[0.8,1.7],[0.82,1.95],[0.84,1.75],[0.86,1.95],[0.88,1.75],[0.9,1.95],[0.92,1.8],[0.94,1.95],[0.96,1.8],[0.98,1.95],[1.0,1.85],[1.03,1.95],[1.06,1.85],[1.09,2.0],[1.12,1.85],[1.15,2.0],[1.18,1.9],[1.21,2.0],[1.24,1.95]];

// vertical reference lines (frequency) and their extents (log10)
const refFreqs = [1/24, 1/12, 1/4];
const refSpanU = [0.7, -9.0];
const refSpanV = [1.35, -9.1];
const refSpanErr = [5.0, 0.0];

// tick labels (decade exponents)
const xTicksTop = [-2, -1, 0];
const xTicksBottom = [-3, -2, -1, 0];
const yTicksU = [1, -1, -3, -5, -7, -9];
const yTicksV = [2, 0, -2, -4, -6, -8];
const yTicksErr = [4, 2, 0];

// ---------- RENDERING ----------
const FONT = 'Liberation Serif';
const INK = '#1a1a1a';
const SPINE = '#4d4d4d';
const C = {DNS:'#ff8c00', NoModel:'#6495ed', NN10:'#3cb371', NN30:'#6b8e23', NN60:'#006400'};

function minorTicks(lo, hi) {
  const out = [];
  for (let d = Math.floor(lo) - 1; d <= Math.ceil(hi); d++) {
    for (let k = 2; k <= 9; k++) { const v = d + Math.log10(k); if (v > lo && v < hi) out.push(v); }
  }
  return out;
}
function pow10Label(v) {
  const e = Math.round(v);
  return '{b|10}{s|' + (e < 0 ? '\u2212' + (-e) : e) + '}';
}
const tickRich = {
  b: {fontFamily: FONT, fontSize: 19, color: INK, lineHeight: 22},
  s: {fontFamily: FONT, fontSize: 13.5, color: INK, lineHeight: 12, verticalAlign: 'top'}
};

const panels = [
  {left:124.3, top:52.3, width:317.4, height:196.7, xmin:-2.167, xmax:0.201, ymin:-10.64, ymax:2.08, xt:xTicksTop, yt:yTicksU, yname:'u'},
  {left:534.3, top:52.3, width:307.4, height:196.7, xmin:-2.167, xmax:0.124, ymin:-9.67, ymax:2.37, xt:xTicksTop, yt:yTicksV, yname:'v'},
  {left:126, top:315, width:717, height:205.7, xmin:-3.018, xmax:0.207, ymin:-1.62, ymax:5.32, xt:xTicksBottom, yt:yTicksErr, yname:null}
];

const grid = [], xAxis = [], yAxis = [];
panels.forEach((p, i) => {
  grid.push({left:p.left, top:p.top, width:p.width, height:p.height, show:true, borderColor:SPINE, borderWidth:1.2, backgroundColor:'transparent', containLabel:false});
  xAxis.push({
    type:'value', gridIndex:i, min:p.xmin, max:p.xmax, position:'bottom',
    axisLine:{show:true, onZero:false, lineStyle:{color:SPINE, width:1.2}},
    axisTick:{show:true, customValues:p.xt, length:5, lineStyle:{color:SPINE, width:1}},
    axisLabel:{customValues:p.xt, formatter:pow10Label, margin:6, rich:tickRich},
    splitLine:{show:false},
    name:'f', nameLocation:'middle', nameGap: i === 2 ? 40 : 34,
    nameTextStyle:{fontFamily:FONT, fontStyle:'italic', fontSize:27, color:INK}
  });
  xAxis.push({
    type:'value', gridIndex:i, min:p.xmin, max:p.xmax, position:'bottom',
    axisLine:{show:true, onZero:false, lineStyle:{color:SPINE, width:1.2}}, axisLabel:{show:false}, splitLine:{show:false},
    axisTick:{show:true, customValues:minorTicks(p.xmin, p.xmax), length:3, lineStyle:{color:SPINE, width:1}}
  });
  const y = {
    type:'value', gridIndex:i, min:p.ymin, max:p.ymax,
    axisLine:{show:true, onZero:false, lineStyle:{color:SPINE, width:1.2}},
    axisTick:{show:true, customValues:p.yt, length:5, lineStyle:{color:SPINE, width:1}},
    axisLabel:{customValues:p.yt, formatter:pow10Label, margin:6, rich:tickRich},
    splitLine:{show:false}
  };
  if (p.yname) {
    y.name = '{i|PSD}{sub|' + p.yname + '}{r|\u2009 (}{i|f\u200A}{r|)}';
    y.nameLocation = 'middle'; y.nameRotate = 90; y.nameGap = 54;
    y.nameTextStyle = {rich:{
      i:{fontFamily:FONT, fontStyle:'italic', fontSize:30, color:INK, lineHeight:32},
      sub:{fontFamily:FONT, fontStyle:'italic', fontSize:20, color:INK, lineHeight:14, verticalAlign:'bottom'},
      r:{fontFamily:FONT, fontSize:30, color:INK, lineHeight:32}
    }};
  }
  yAxis.push(y);
});

function toXY(pairs) { return pairs.map(p => [Math.log10(p[0]), p[1]]); }
function line(name, pairs, gi, color, width, extra) {
  return Object.assign({
    type:'line', name, xAxisIndex: gi * 2, yAxisIndex: gi, data: toXY(pairs),
    symbol:'none', showSymbol:false, lineStyle:{color, width}, itemStyle:{color},
    clip:true, silent:true, z:2
  }, extra || {});
}
const dnsExtra = {symbol:'circle', showSymbol:true, showAllSymbol:true, symbolSize:7};
const series = [];
[[dnsU, noModelU, nn10U, nn30U, nn60U, refSpanU, 0], [dnsV, noModelV, nn10V, nn30V, nn60V, refSpanV, 1]].forEach(s => {
  const gi = s[6];
  series.push(line('DNS', s[0], gi, C.DNS, 3, dnsExtra));
  series.push(line('NoModel', s[1], gi, C.NoModel, 2.6));
  series.push(line('NN10', s[2], gi, C.NN10, 1.5));
  series.push(line('NN30', s[3], gi, C.NN30, 1.5));
  series.push(line('NN60', s[4], gi, C.NN60, 1.5));
  refFreqs.forEach(f => series.push(line('ref', [[f, s[5][0]], [f, s[5][1]]], gi, '#000', 1.5, {lineStyle:{color:'#000', width:1.5, type:[1.5, 2.5]}, z:3})));
});
series.push(line('NN10', nn10Err, 2, C.NN10, 1.5));
series.push(line('NN30', nn30Err, 2, C.NN30, 1.5));
series.push(line('NN60', nn60Err, 2, C.NN60, 1.5));
refFreqs.forEach(f => series.push(line('ref', [[f, refSpanErr[0]], [f, refSpanErr[1]]], 2, '#000', 1.5, {lineStyle:{color:'#000', width:1.5, type:[1.5, 2.5]}, z:3})));

const legendLabels = {DNS:'{a|DNS}', NoModel:'{a|NoModel}', NN10:'{a|NN}{s|10\u2112}{t|T}', NN30:'{a|NN}{s|30\u2112}{t|T}', NN60:'{a|NN}{s|60\u2112}{t|T}'};

// bottom y label built from text pieces (rotated)
const gx = 39, gy = 522;
const lblRich = {
  i:{fontFamily:FONT, fontStyle:'italic', fontSize:21, fill:INK, lineHeight:24},
  r:{fontFamily:FONT, fontSize:21, fill:INK, lineHeight:24},
  sub:{fontFamily:FONT, fontStyle:'italic', fontSize:14, fill:INK, lineHeight:12, verticalAlign:'bottom'},
  ssub:{fontFamily:FONT, fontStyle:'italic', fontSize:11, fill:INK, lineHeight:8, verticalAlign:'bottom'},
  sig:{fontFamily:FONT, fontSize:34, fill:INK, lineHeight:34},
  sigsub:{fontFamily:FONT, fontStyle:'italic', fontSize:16, fill:INK, lineHeight:12, verticalAlign:'bottom'},
  big:{fontFamily:FONT, fontSize:23, fill:INK, lineHeight:26}
};
const graphic = [{
  type:'group', x:gx, y:gy, rotation:Math.PI/2, silent:true,
  children:[
    {type:'text', x:0, y:6, style:{text:'{sig|\u03A3}{sigsub|i}', rich:lblRich, align:'left', verticalAlign:'middle'}},
    {type:'text', x:107, y:-14, style:{text:'{r||}{i|PSD}{sub|\u0169}{ssub|i}{r| \u2212 }{i|PSD}{sub|u}{ssub|i g}{r||}', rich:lblRich, align:'center', verticalAlign:'middle'}},
    {type:'rect', shape:{x:42, y:-0.6, width:130, height:1.2}, style:{fill:INK}},
    {type:'text', x:107, y:16, style:{text:'{i|PSD}{sub|u}{ssub|i g}', rich:lblRich, align:'center', verticalAlign:'middle'}},
    {type:'text', x:188, y:9, style:{text:'{big|(}{i|f}{big|)}', rich:lblRich, align:'left', verticalAlign:'middle'}}
  ]
}];

const option = {
  animation:false,
  backgroundColor:'#fff',
  grid, xAxis, yAxis, series, graphic,
  legend:{
    data:['DNS','NoModel','NN10','NN30','NN60'],
    left:180, top:2, padding:[7,10,7,6], itemGap:20, itemWidth:32, itemHeight:12,
    borderColor:'#cccccc', borderWidth:1, borderRadius:4, backgroundColor:'#fff',
    formatter: n => legendLabels[n],
    textStyle:{rich:{
      a:{fontFamily:FONT, fontSize:20, color:INK, lineHeight:26},
      s:{fontFamily:FONT, fontSize:16, color:INK, lineHeight:14, verticalAlign:'bottom'},
      t:{fontFamily:FONT, fontStyle:'italic', fontSize:12, color:INK, lineHeight:8, verticalAlign:'bottom'}
    }}
  }
};
const chart = echarts.init(document.getElementById('c'), null, {renderer:'canvas'});
chart.setOption(option);
</script></body></html>
